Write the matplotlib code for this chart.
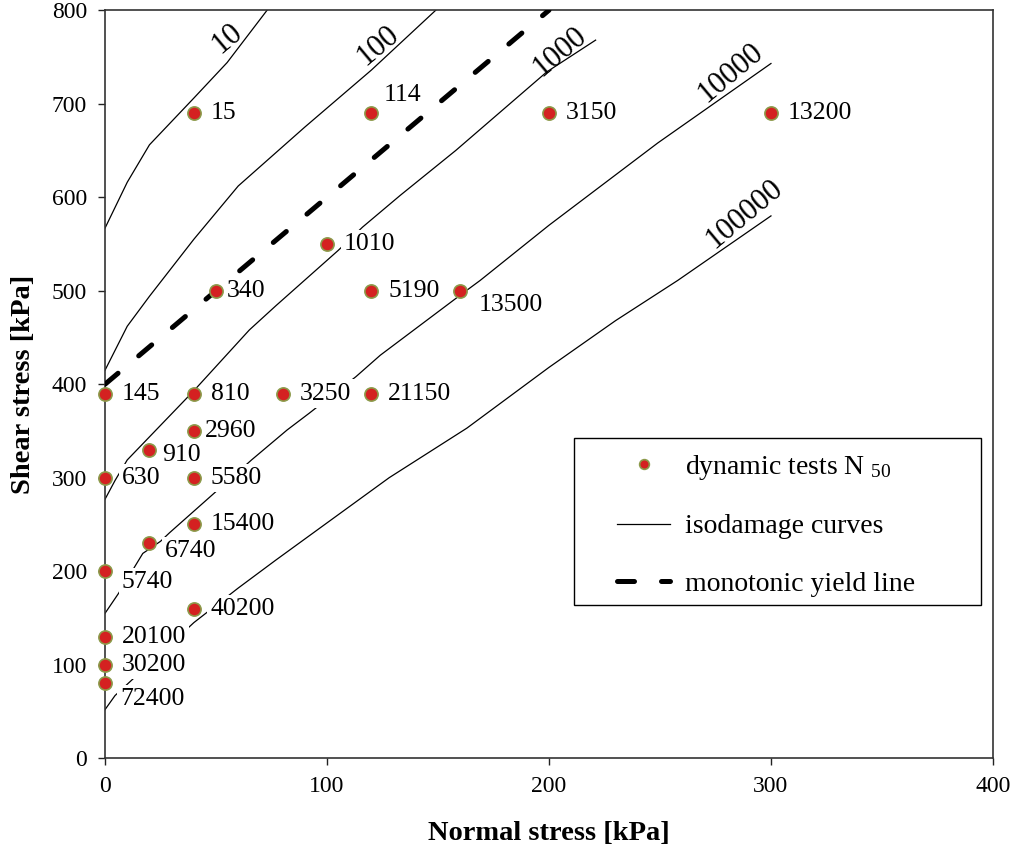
import matplotlib
matplotlib.use("Agg")
import matplotlib.pyplot as plt
from matplotlib.patches import Rectangle

plt.rcParams["font.family"] = ["Liberation Serif", "DejaVu Serif"]
plt.rcParams["mathtext.fontset"] = "custom"
plt.rcParams["mathtext.rm"] = "Liberation Serif"
plt.rcParams["mathtext.default"] = "regular"

# dynamic tests: normal stress, shear stress, cycles to failure N50
test_sn = [40, 120, 200, 300, 100, 50, 120, 160, 0, 40, 80, 120, 40, 20,
           0, 40, 40, 20, 0, 40, 0, 0, 0]
test_tau = [690, 690, 690, 690, 550, 500, 500, 500, 390, 390, 390, 390, 350, 330,
            300, 300, 250, 230, 200, 160, 130, 100, 80]
test_n50 = ["15", "114", "3150", "13200", "1010", "340", "5190", "13500", "145",
            "810", "3250", "21150", "2960", "910", "630", "5580", "15400", "6740",
            "5740", "40200", "20100", "30200", "72400"]

# isodamage curves (number of cycles -> points)
iso_levels = ["10", "100", "1000", "10000", "100000"]
iso_sn = [
    [0, 10, 20, 40, 55, 73],
    [0, 10, 20, 40, 60, 90, 120, 149],
    [0, 4.5, 10, 40, 65, 77, 105, 116, 133, 158, 199, 221],
    [0, 6, 17, 25, 29, 48, 66, 82, 92, 113, 124, 161, 169, 200, 249, 300],
    [0, 4.5, 40, 60, 77, 128, 163, 200, 230, 258, 300],
]
iso_tau = [
    [567, 616, 656, 706, 744, 800],
    [415, 462, 494, 555, 612, 675, 736, 800],
    [277, 297, 319, 393, 458, 484, 543, 568, 602, 650, 734, 768],
    [155, 176, 219, 232, 241, 281, 319, 351, 369, 408, 431, 497, 511, 570, 658, 743],
    [52, 67, 145, 182, 212, 300, 353, 418, 468, 511, 580],
]

# monotonic yield line
yield_sn = [0, 200]
yield_tau = [400, 800]

# label offsets in points (dx, dy) for the N50 numbers
lab_off = {"114": (9, 13), "13500": (13, -10), "910": (9, -4), "6740": (11, -6),
           "5740": (12, -8), "72400": (11, -11), "340": (8, 0), "2960": (8, 0)}
# where the curve level labels sit (data coords)
iso_lab_pos = [(55, 770), (123, 762), (205, 756), (282, 733), (288, 582)]

fig = plt.figure(figsize=(10.13, 8.5), dpi=100)
ax = fig.add_axes([0.1037, 0.108, 0.8765, 0.880])

for sn, tau in zip(iso_sn, iso_tau):
    ax.plot(sn, tau, color="black", lw=0.9, zorder=2)
ax.plot([], [], color="black", lw=0.9, label="isodamage curves")

ax.plot(yield_sn, yield_tau, color="black", lw=3.6, dashes=(3.4, 5.4),
        dash_capstyle="round", zorder=3, label="monotonic yield line")

for x, y, t in zip(test_sn, test_tau, test_n50):
    dx, dy = lab_off.get(t, (12, 0))
    ax.annotate(t, (x, y), xytext=(dx, dy), textcoords="offset points",
                ha="left", va="center", fontsize=18.5, zorder=4,
                bbox=dict(fc="white", ec="none", pad=2.2))

ax.plot(test_sn, test_tau, ls="none", marker="o", ms=9.5, mfc="#d42121",
        mec="#8c9a4a", mew=1.2, zorder=5, clip_on=False,
        label=r"dynamic tests N $_{50}$")

for lvl, (x, y) in zip(iso_levels, iso_lab_pos):
    ax.text(x, y, lvl, fontsize=22, rotation=40, ha="center", va="center",
            rotation_mode="anchor", zorder=4)

ax.set_xlim(0, 400)
ax.set_ylim(0, 800)
ax.set_xticks(range(0, 401, 100))
ax.set_yticks(range(0, 801, 100))
ax.tick_params(direction="out", length=5, width=1, labelsize=17, pad=8,
               colors="#222222", labelcolor="black")
for sp in ax.spines.values():
    sp.set_linewidth(1.2)
    sp.set_color("#333333")

ax.set_xlabel("Normal stress [kPa]", fontsize=20.5, fontweight="bold", labelpad=17)
ax.set_ylabel("Shear stress [kPa]", fontsize=20.5, fontweight="bold", labelpad=11)

# legend frame drawn separately so the entries get wide side margins
ax.add_patch(Rectangle((0.528, 0.2045), 0.458, 0.2235, transform=ax.transAxes,
                       fc="white", ec="black", lw=1.0, zorder=6))
h, l = ax.get_legend_handles_labels()
order = [2, 0, 1]
leg = ax.legend([h[i] for i in order], [l[i] for i in order],
                loc="upper left", bbox_to_anchor=(0.577, 0.408),
                fontsize=20, frameon=False, handlelength=1.9,
                labelspacing=1.15, borderpad=0, handletextpad=0.55,
                borderaxespad=0)
leg.set_zorder(7)
leg.legend_handles[0].set_markersize(7)

fig.savefig("out.png", dpi=100)
